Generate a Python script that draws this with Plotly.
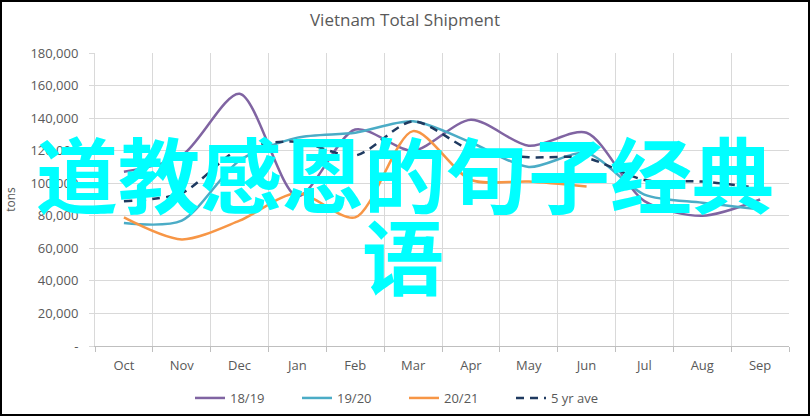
import plotly.graph_objects as go

months = ["Oct", "Nov", "Dec", "Jan", "Feb", "Mar", "Apr", "May", "Jun", "Jul", "Aug", "Sep"]
s1819 = [107000, 117000, 155000, 92000, 133000, 120000, 139000, 123000, 131000, 89000, 80000, 90000]
s1920 = [75500, 77000, 114000, 128000, 131000, 138000, 125000, 110000, 118500, 93000, 88000, 84000]
s2021 = [79000, 65500, 77000, 94000, 79000, 132000, 102000, 101000, 98000]
s5yr = [89000, 94000, 121000, 125500, 117000, 138000, 120500, 116000, 115500, 102000, 101000, 97000]

y_ticks = [0, 20000, 40000, 60000, 80000, 100000, 120000, 140000, 160000, 180000]
y_labels = ["-"] + [f"{v:,}" for v in y_ticks[1:]]

W, H = 810, 416
ML, MR, MT, MB = 95, 21, 53, 70
PW, PH = W - ML - MR, H - MT - MB

fig = go.Figure()
series = [
    ("18/19", months, s1819, "#8064A2", "solid"),
    ("19/20", months, s1920, "#4BACC6", "solid"),
    ("20/21", months[:len(s2021)], s2021, "#F79646", "solid"),
    ("5 yr ave", months, s5yr, "#1F3A60", "8px,6px"),
]
for name, xs, ys, col, dash in series:
    fig.add_trace(go.Scatter(
        x=xs, y=ys, name=name, mode="lines",
        line=dict(color=col, width=2.5, dash=dash, shape="spline", smoothing=0.8),
    ))

grey = "#595959"
fig.update_layout(
    width=W, height=H,
    margin=dict(l=ML, r=MR, t=MT, b=MB, autoexpand=False),
    paper_bgcolor="white", plot_bgcolor="white",
    font=dict(family="Open Sans", color=grey, size=13),
    title=dict(text="Vietnam Total Shipment", x=0.5, xref="container", xanchor="center",
               y=1 - 20 / H, yref="container", yanchor="middle",
               font=dict(size=17, color=grey)),
    showlegend=True,
    legend=dict(orientation="h", x=(190 - ML) / PW, xanchor="left",
                y=-(398 - MT - PH) / PH, yanchor="middle",
                font=dict(size=13, color=grey), tracegroupgap=0,
                entrywidth=62, entrywidthmode="pixels"),
    xaxis=dict(type="category", categoryorder="array", categoryarray=months,
               tickson="boundaries", showgrid=True, gridcolor="#d9d9d9", gridwidth=1,
               showline=True, linecolor="#bfbfbf", linewidth=1,
               ticks="outside", ticklen=5, tickcolor="#bfbfbf",
               tickfont=dict(size=13, color=grey), mirror=False, zeroline=False,
               ticklabelstandoff=7, range=[-0.5, 11.5]),
    yaxis=dict(range=[0, 180000], tickvals=y_ticks, ticktext=y_labels,
               showgrid=True, gridcolor="#d9d9d9", gridwidth=1,
               showline=True, linecolor="#d9d9d9", linewidth=1,
               ticks="outside", ticklen=5, tickcolor="#d9d9d9",
               tickfont=dict(size=13, color=grey), zeroline=False,
               ticklabelstandoff=8,
               title=dict(text="tons", font=dict(size=12, color=grey), standoff=12)),
)

# outer black border
fig.add_shape(type="rect", xref="paper", yref="paper",
              x0=(1 - ML) / PW, x1=(W - 1 - ML) / PW,
              y0=-(H - 1 - MT - PH) / PH, y1=1 + (MT - 1) / PH,
              line=dict(color="black", width=2), fillcolor="rgba(0,0,0,0)", layer="above")

overlay_font = dict(family="Noto Sans CJK SC", size=82, color="#00FFFF", weight="bold")
fig.add_annotation(text="道教感恩的句子经典", xref="paper", yref="paper",
                   x=(405 - ML) / PW, y=1 - (171 - MT) / PH, showarrow=False,
                   xanchor="center", yanchor="middle", font=overlay_font)
fig.add_annotation(text="语", xref="paper", yref="paper",
                   x=(403 - ML) / PW, y=1 - (253 - MT) / PH, showarrow=False,
                   xanchor="center", yanchor="middle", font=overlay_font)

fig.write_html("out.html", config={"displayModeBar": False},
               post_script="document.body.style.margin='0';document.body.style.overflow='hidden';")
